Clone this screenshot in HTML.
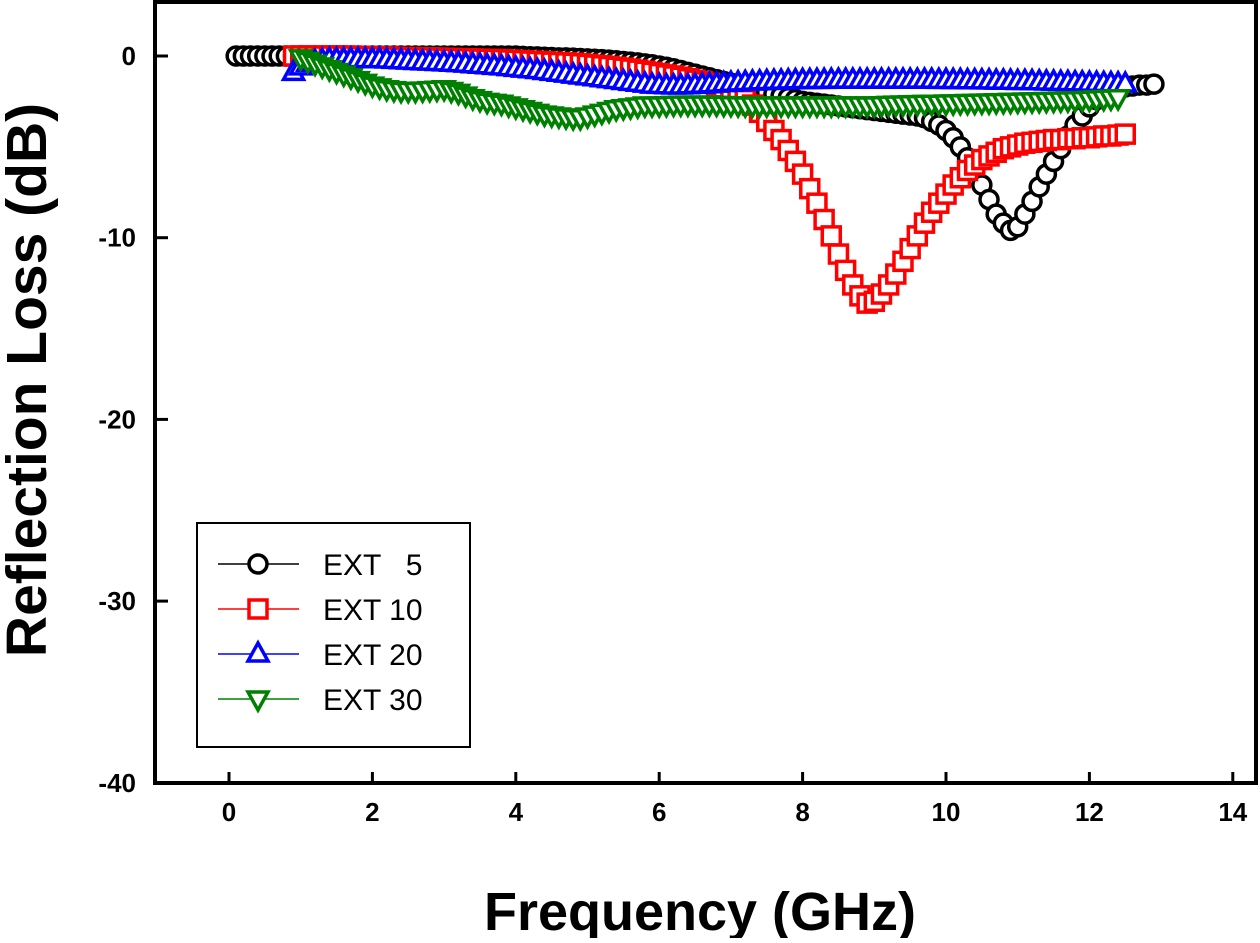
<!DOCTYPE html>
<html><head><meta charset="utf-8"><style>
body{margin:0;background:#fff;}
svg text{font-family:"Liberation Sans",Arial,sans-serif;font-weight:bold;}
</style></head><body>
<svg id="chart" width="1260" height="938" viewBox="0 0 1260 938" xmlns="http://www.w3.org/2000/svg">
<g id="plot"></g>
</svg>
<script>
const xTicks=[0,2,4,6,8,10,12,14];
const yTicks=[0,-10,-20,-30,-40];
const seriesNames=["EXT   5","EXT 10","EXT 20","EXT 30"];
const seriesColors=["#000000","#ff0000","#0000ff","#008000"];
const f5Start=0.1, f10Start=0.9, f20Start=0.9, f30Start=1.0, fStep=0.1;
const ext5=[0,0,0,0,0,0,0,0,0,0, 0,0,0,0,0,0,0,0,0,0, 0,0,0,0,0,0,0,0,0,0, 0,0,0,0,0,0,0,0,0,0,
-0.02,-0.04,-0.05,-0.07,-0.08,-0.1,-0.1,-0.12,-0.14,-0.16,
-0.18,-0.2,-0.23,-0.26,-0.3,-0.34,-0.38,-0.43,-0.48,-0.55,
-0.62,-0.7,-0.8,-0.9,-1.0,-1.1,-1.2,-1.3,-1.4,-1.5,
-1.6,-1.7,-1.8,-1.9,-2.0,-2.1,-2.2,-2.3,-2.4,-2.5,
-2.55,-2.6,-2.65,-2.7,-2.75,-2.8,-2.85,-2.9,-2.95,-3.0,
-3.05,-3.1,-3.15,-3.2,-3.25,-3.3,-3.4,-3.6,-3.8,-4.1,
-4.5,-5.0,-5.6,-6.3,-7.1,-7.9,-8.7,-9.2,-9.6,-9.4,
-8.7,-8.0,-7.2,-6.5,-5.8,-5.1,-4.4,-3.8,-3.3,-2.8,
-2.4,-2.1,-1.9,-1.8,-1.7,-1.65,-1.6,-1.6,-1.55];
const ext10=[0,0,0,0,0,0,0,0,0,-0.02,
-0.03,-0.04,-0.05,-0.05,-0.06,-0.07,-0.08,-0.09,-0.1,-0.1,
-0.11,-0.12,-0.13,-0.14,-0.15,-0.16,-0.17,-0.18,-0.19,-0.2,
-0.22,-0.24,-0.26,-0.28,-0.3,-0.32,-0.34,-0.36,-0.38,-0.4,
-0.43,-0.46,-0.5,-0.54,-0.58,-0.62,-0.67,-0.72,-0.78,-0.84,
-0.9,-0.97,-1.04,-1.1,-1.17,-1.25,-1.33,-1.42,-1.5,-1.6,
-1.75,-1.9,-2.1,-2.4,-2.7,-3.1,-3.6,-4.1,-4.6,-5.2,
-5.8,-6.5,-7.3,-8.1,-9.0,-9.9,-10.9,-11.8,-12.6,-13.2,
-13.6,-13.5,-13.1,-12.6,-12.0,-11.3,-10.6,-9.9,-9.2,-8.6,
-8.1,-7.6,-7.1,-6.7,-6.3,-6.0,-5.7,-5.5,-5.3,-5.1,
-5.0,-4.9,-4.8,-4.75,-4.7,-4.65,-4.6,-4.6,-4.55,-4.55,
-4.5,-4.5,-4.45,-4.4,-4.4,-4.35,-4.3];
const ext20=[-0.9,-0.6,-0.4,-0.3,-0.25,-0.2,-0.2,-0.2,-0.2,-0.2,
-0.2,-0.2,-0.2,-0.22,-0.24,-0.26,-0.28,-0.3,-0.32,-0.34,
-0.36,-0.38,-0.4,-0.42,-0.45,-0.48,-0.51,-0.54,-0.57,-0.6,
-0.64,-0.68,-0.72,-0.76,-0.8,-0.85,-0.9,-0.95,-1.0,-1.05,
-1.1,-1.15,-1.2,-1.25,-1.3,-1.35,-1.4,-1.45,-1.5,-1.55,
-1.6,-1.62,-1.64,-1.65,-1.65,-1.64,-1.62,-1.6,-1.58,-1.55,
-1.52,-1.5,-1.48,-1.46,-1.44,-1.42,-1.4,-1.39,-1.38,-1.37,
-1.36,-1.35,-1.35,-1.34,-1.34,-1.33,-1.33,-1.33,-1.33,-1.33,
-1.33,-1.33,-1.33,-1.33,-1.33,-1.33,-1.33,-1.33,-1.33,-1.33,
-1.34,-1.34,-1.35,-1.35,-1.36,-1.36,-1.37,-1.37,-1.38,-1.38,
-1.39,-1.4,-1.4,-1.41,-1.42,-1.43,-1.44,-1.45,-1.46,-1.47,
-1.48,-1.49,-1.5,-1.51,-1.52,-1.53,-1.55];
const ext30=[-0.1,-0.25,-0.4,-0.55,-0.7,-0.85,-1.0,-1.15,-1.3,-1.45,
-1.6,-1.7,-1.8,-1.85,-1.9,-1.9,-1.9,-1.88,-1.85,-1.83,
-1.8,-1.9,-2.0,-2.15,-2.3,-2.4,-2.5,-2.55,-2.6,-2.7,
-2.8,-2.9,-3.0,-3.1,-3.2,-3.25,-3.3,-3.35,-3.4,-3.4,
-3.3,-3.2,-3.1,-3.0,-2.9,-2.85,-2.8,-2.75,-2.7,-2.7,
-2.7,-2.68,-2.66,-2.65,-2.65,-2.65,-2.65,-2.65,-2.66,-2.67,
-2.68,-2.69,-2.7,-2.7,-2.7,-2.7,-2.7,-2.7,-2.7,-2.7,
-2.7,-2.7,-2.7,-2.7,-2.7,-2.7,-2.7,-2.7,-2.7,-2.7,
-2.7,-2.68,-2.66,-2.65,-2.64,-2.63,-2.62,-2.61,-2.6,-2.6,
-2.59,-2.58,-2.57,-2.56,-2.55,-2.54,-2.53,-2.52,-2.51,-2.5,
-2.49,-2.48,-2.47,-2.46,-2.45,-2.44,-2.43,-2.42,-2.41,-2.4,
-2.38,-2.36,-2.34,-2.32,-2.3];

const NS="http://www.w3.org/2000/svg";
const g=document.getElementById('plot');
const X0=229, XS=71.7, Y0=56, YS=18.17;
function xs(f){return X0+f*XS;}
function ys(v){return Y0-v*YS;}
function mk(tag,attrs,parent){const e=document.createElementNS(NS,tag);for(const k in attrs)e.setAttribute(k,attrs[k]);(parent||g).appendChild(e);return e;}

const frame=mk('rect',{x:155,y:2,width:1101,height:781,fill:'none',stroke:'#000','stroke-width':4});



xTicks.forEach(t=>{
  const l=mk('line',{x1:xs(t),x2:xs(t),y1:783,y2:772,stroke:'#000','stroke-width':3});
  
  
  const tx=mk('text',{x:xs(t),y:821,'text-anchor':'middle','font-size':26});
  tx.textContent=t;
  
  
});
yTicks.forEach(t=>{
  const l=mk('line',{x1:155,x2:168,y1:ys(t),y2:ys(t),stroke:'#000','stroke-width':3});
  
  
  const tx=mk('text',{x:136,y:ys(t)+9,'text-anchor':'end','font-size':26});
  tx.textContent=t;
  
  
});
const xt=mk('text',{x:700,y:930,'text-anchor':'middle','font-size':54});
xt.textContent='Frequency (GHz)';


const yt=mk('text',{x:0,y:0,'text-anchor':'middle','font-size':57,transform:'translate(46,380) rotate(-90)'});
yt.textContent='Reflection Loss (dB)';



function marker(type,cx,cy,color,parent){
  const a={fill:'#fff',stroke:color,'stroke-width':3.5};
  let e;
  if(type===0){a.cx=cx;a.cy=cy;a.r=9;e=mk('circle',a,parent);}
  else if(type===1){a.x=cx-9;a.y=cy-9;a.width=18;a.height=18;e=mk('rect',a,parent);}
  else if(type===2){a.points=`${cx},${cy-11} ${cx-10},${cy+7} ${cx+10},${cy+7}`;e=mk('polygon',a,parent);}
  else {a.points=`${cx},${cy+11} ${cx-10},${cy-7} ${cx+10},${cy-7}`;e=mk('polygon',a,parent);}
  return e;
}
const all=[[ext5,f5Start],[ext10,f10Start],[ext20,f20Start],[ext30,f30Start]];
all.forEach((s,i)=>{
  const grp=mk('g',{});
  
  
  const pts=s[0].map((v,j)=>`${xs(s[1]+j*fStep)},${ys(v)}`).join(' ');
  const pl=mk('polyline',{points:pts,fill:'none',stroke:seriesColors[i],'stroke-width':1.5},grp);
  
  
  s[0].forEach((v,j)=>{
    const m=marker(i,xs(s[1]+j*fStep),ys(v),seriesColors[i],grp);
    
    
  });
});

const lg=mk('g',{});


mk('rect',{x:197,y:523,width:273,height:224,fill:'#fff',stroke:'#000','stroke-width':2},lg);
seriesNames.forEach((n,i)=>{
  const y=564+i*45;
  const en=mk('g',{},lg);
  
  
  mk('line',{x1:218,x2:299,y1:y,y2:y,stroke:seriesColors[i],'stroke-width':1.5},en);
  marker(i,258,y,seriesColors[i],en);
  const t=mk('text',{x:323,y:y+11,'font-size':30,style:'font-weight:normal;white-space:pre'},en);
  t.textContent=n;
});
</script>
</body></html>
